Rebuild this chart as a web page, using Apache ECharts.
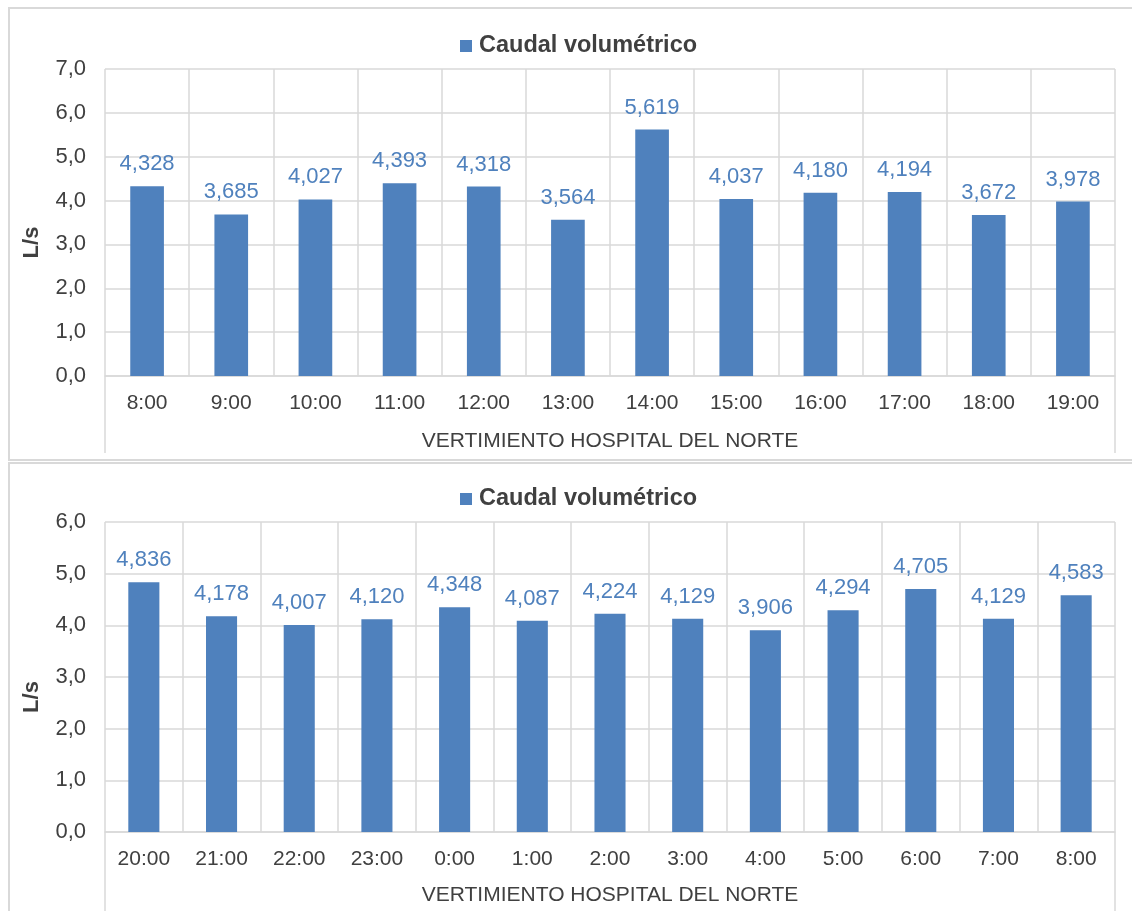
<!DOCTYPE html>
<html>
<head>
<meta charset="utf-8">
<script src="https://cdn.jsdelivr.net/npm/echarts@6/dist/echarts.min.js"></script>
<style>
  html, body { margin: 0; padding: 0; background: #fff; overflow: hidden; width: 1132px; height: 911px; }
  .box { position: absolute; border: 2px solid #d9d9d9; background: #fff; }
  #chart_dia { left: 8px; top: 7px; width: 1140px; height: 450px; }
  #chart_noche { left: 8px; top: 462px; width: 1140px; height: 470px; }
</style>
</head>
<body>
<div id="chart_dia" class="box"></div>
<div id="chart_noche" class="box"></div>
<script>
// datos
var horasDia = ['8:00', '9:00', '10:00', '11:00', '12:00', '13:00', '14:00', '15:00', '16:00', '17:00', '18:00', '19:00'];
var caudalDia = [4.328, 3.685, 4.027, 4.393, 4.318, 3.564, 5.619, 4.037, 4.180, 4.194, 3.672, 3.978];

var horasNoche = ['20:00', '21:00', '22:00', '23:00', '0:00', '1:00', '2:00', '3:00', '4:00', '5:00', '6:00', '7:00', '8:00'];
var caudalNoche = [4.836, 4.178, 4.007, 4.120, 4.348, 4.087, 4.224, 4.129, 3.906, 4.294, 4.705, 4.129, 4.583];

var serieNombre = 'Caudal volumétrico';
var ejeX = 'VERTIMIENTO HOSPITAL DEL NORTE';
var ejeY = 'L/s';

var gris = '#d9d9d9';
var texto = '#404040';
var azul = '#4f81bd';
var fuente = 'Liberation Sans, Arial, sans-serif';

function coma(v, d) {
    return v.toFixed(d).replace('.', ',');
}

function opciones(horas, datos, maxY, gridTop, gridH, legendTop, tickLen, nameGap) {
    return {
        animation: false,
        textStyle: { fontFamily: fuente },
        legend: {
            left: 445,
            top: legendTop,
            icon: 'rect',
            itemWidth: 12,
            itemHeight: 12,
            itemGap: 6,
            data: [serieNombre],
            textStyle: { fontSize: 23.5, fontWeight: 'bold', color: texto, fontFamily: fuente, padding: [0, 0, 0, 2] }
        },
        grid: { left: 95, top: gridTop, width: 1010, height: gridH },
        xAxis: {
            type: 'category',
            data: horas,
            name: ejeX,
            nameLocation: 'middle',
            nameGap: nameGap,
            nameTextStyle: { fontSize: 21, color: texto },
            axisLine: { lineStyle: { color: gris, width: 1.5 } },
            // solo las líneas de los extremos bajan hasta el título
            axisTick: {
                show: true,
                length: tickLen,
                interval: function (i) { return i === 0; },
                lineStyle: { color: gris, width: 1.5 }
            },
            splitLine: { show: true, interval: 0, lineStyle: { color: gris, width: 1.5 } },
            axisLabel: { fontSize: 21, color: texto, margin: 17, interval: 0 }
        },
        yAxis: {
            type: 'value',
            min: 0,
            max: maxY,
            interval: 1,
            name: ejeY,
            nameLocation: 'middle',
            nameGap: 62,
            nameTextStyle: { fontSize: 22, fontWeight: 'bold', color: texto, padding: [0, 40, 0, 0] },
            axisLine: { show: false },
            axisTick: { show: false },
            splitLine: { lineStyle: { color: gris, width: 1.5 } },
            axisLabel: {
                fontSize: 22, color: texto, margin: 19,
                formatter: function (v) { return coma(v, 1); }
            }
        },
        series: [{
            name: serieNombre,
            type: 'bar',
            data: datos,
            barWidth: '40%',
            itemStyle: { color: azul },
            label: {
                show: true,
                position: 'top',
                distance: 11,
                fontSize: 22,
                color: azul,
                formatter: function (p) { return coma(p.value, 3); }
            }
        }]
    };
}

var chartDia = echarts.init(document.getElementById('chart_dia'));
chartDia.setOption(opciones(horasDia, caudalDia, 7, 60, 307, 20, 77, 55));

var chartNoche = echarts.init(document.getElementById('chart_noche'));
chartNoche.setOption(opciones(horasNoche, caudalNoche, 6, 58, 310, 18, 90, 53));
</script>
</body>
</html>
